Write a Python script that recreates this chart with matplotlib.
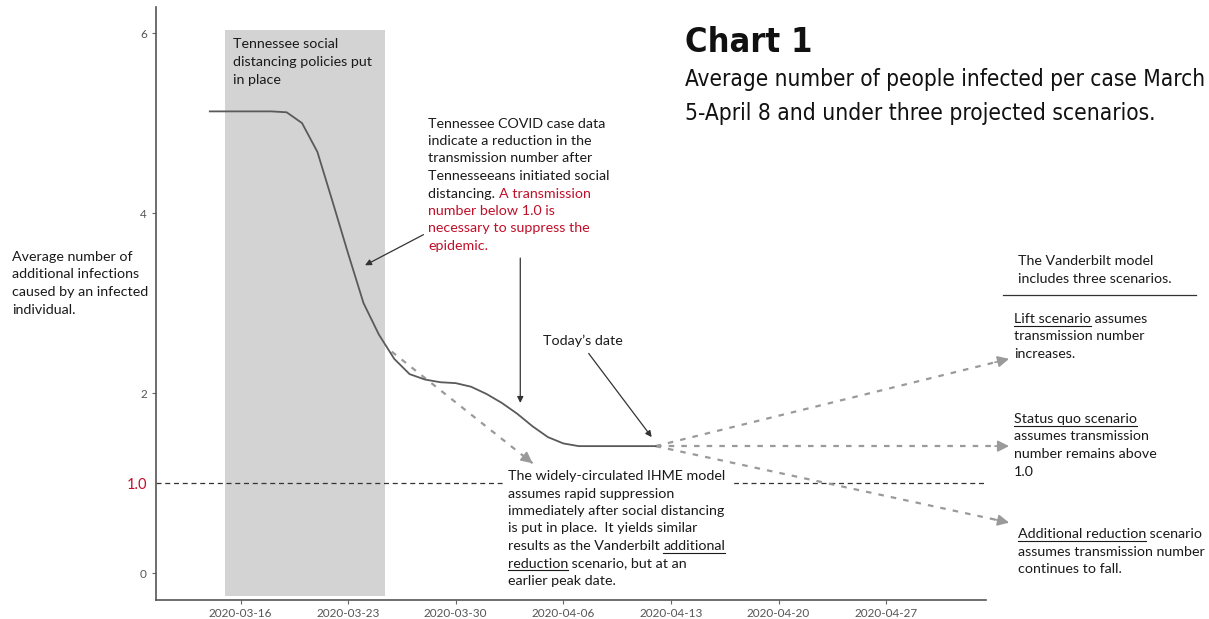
import os
import numpy as np
import pandas as pd
import matplotlib
matplotlib.use('Agg')
import matplotlib.pyplot as plt
from matplotlib import font_manager
from matplotlib.lines import Line2D

W, H = 1209, 619

# ---- data ----
dates = pd.date_range('2020-03-14', '2020-04-12')
r_values = [5.13, 5.13, 5.13, 5.13, 5.13, 5.12, 5.00, 4.68, 4.12, 3.55,
            3.00, 2.65, 2.38, 2.21, 2.15, 2.12, 2.11, 2.07, 1.99, 1.89,
            1.77, 1.63, 1.51, 1.44, 1.41, 1.41, 1.41, 1.41, 1.41, 1.41]

policy_start = pd.Timestamp('2020-03-15')
policy_end = pd.Timestamp('2020-03-25 10:00')
policy_ymin, policy_ymax = -0.26, 6.03

threshold = 1.0

ihme_start = (pd.Timestamp('2020-03-25 20:00'), 2.46)
ihme_end = (pd.Timestamp('2020-04-04'), 1.22)

scen_start = (pd.Timestamp('2020-04-12'), 1.41)
scen_end_date = pd.Timestamp('2020-05-05')
scen_names = ['lift', 'status quo', 'additional reduction']
scen_end_values = [2.38, 1.41, 0.56]

x_ticks = pd.date_range('2020-03-16', '2020-04-27', freq='7D')
y_ticks = [0, 2, 4, 6]

INK = '#1a1a1a'
RED = '#c0102a'
GREY_LINE = '#5a5a5a'
ARROW_GREY = '#9a9a9a'
TEXT_FONT = 'Lato'

plt.rcParams['font.family'] = [TEXT_FONT, 'DejaVu Sans']

fig = plt.figure(figsize=(W / 100, H / 100), dpi=100)
ax = fig.add_axes([156 / W, 1 - 600 / H, (986 - 156) / W, (600 - 7) / H])

ax.set_xlim(pd.Timestamp('2020-03-10 12:00'), pd.Timestamp('2020-05-03 12:00'))
ax.set_ylim(-0.3, 6.29)

# shaded policy window
ax.axvspan(policy_start, policy_end, ymin=(policy_ymin + 0.3) / 6.59,
           ymax=(policy_ymax + 0.3) / 6.59, color='#d3d3d3', lw=0, zorder=0)

# threshold line
ax.axhline(threshold, color='#333333', lw=0.9, linestyle=(0, (4, 3)), zorder=1)

# observed transmission number
ax.plot(dates, r_values, color=GREY_LINE, lw=1.3, zorder=3)


def dashed_arrow(start, end):
    ax.plot([start[0], end[0]], [start[1], end[1]], color=ARROW_GREY, lw=1.6,
            linestyle=(0, (2.5, 3.2)), clip_on=False, zorder=2)
    pre = (end[0] - (end[0] - start[0]) * 0.04, end[1] - (end[1] - start[1]) * 0.04)
    ax.annotate('', xy=end, xytext=pre, annotation_clip=False,
                arrowprops=dict(arrowstyle='-|>', color=ARROW_GREY, lw=1.2,
                                mutation_scale=17, shrinkA=0, shrinkB=0))


dashed_arrow(ihme_start, ihme_end)
for v in scen_end_values:
    dashed_arrow(scen_start, (scen_end_date, v))


def black_arrow(tail, tip):
    ax.annotate('', xy=tip, xytext=tail, annotation_clip=False,
                arrowprops=dict(arrowstyle='-|>', color='#333333', lw=0.9,
                                mutation_scale=9, shrinkA=0, shrinkB=0))


def d(day):
    return pd.Timestamp('2020-03-16') + pd.Timedelta(days=day)


black_arrow((d(11.9), 3.76), (d(8.1), 3.42))
black_arrow((d(18.2), 3.5), (d(18.2), 1.89))
black_arrow((d(22.65), 2.44), (d(26.75), 1.51))

# axes styling
for s in ['top', 'right']:
    ax.spines[s].set_visible(False)
for s in ['left', 'bottom']:
    ax.spines[s].set_color('#555555')
    ax.spines[s].set_linewidth(1.2)

ax.set_xticks(x_ticks)
ax.set_xticklabels([t.strftime('%Y-%m-%d') for t in x_ticks])
ax.set_yticks(y_ticks + [threshold])
ax.set_yticklabels([str(v) for v in y_ticks] + ['1.0'])
ax.tick_params(axis='both', colors='#666666', labelsize=8.5, length=3, width=0.8)
ax.tick_params(axis='x', pad=3)
ylabels = ax.get_yticklabels()
ylabels[-1].set_color(RED)
ylabels[-1].set_fontsize(10.5)
ax.get_yticklines()[-2].set_visible(False)
for lab in ax.get_xticklabels() + ylabels[:-1]:
    lab.set_color('#555555')

# ---- text annotations, placed in figure pixels ----
renderer = fig.canvas.get_renderer()
BODY = 10.3


def width_of(s, **kw):
    t = fig.text(0, 0, s + 'I', **kw)
    w1 = t.get_window_extent(renderer).width
    t.set_text('I')
    w0 = t.get_window_extent(renderer).width
    t.remove()
    return w1 - w0


def put_lines(x, y, lines, size=BODY, lh=17.5):
    for i, line in enumerate(lines):
        segs = line if isinstance(line, list) else [(line, INK, False)]
        base = y + i * lh
        cx = x
        for txt, col, ul in segs:
            fig.text(cx / W, 1 - base / H, txt, fontsize=size, color=col,
                     ha='left', va='baseline')
            w = width_of(txt, fontsize=size)
            if ul:
                wu = width_of(txt.rstrip(), fontsize=size)
                fig.add_artist(Line2D([cx / W, (cx + wu) / W],
                                      [1 - (base + 2.6) / H] * 2,
                                      transform=fig.transFigure, color=col, lw=0.8))
            cx += w


put_lines(233, 48.5, ['Tennessee social', 'distancing policies put', 'in place'])

put_lines(428, 127.5, ['Tennessee COVID case data', 'indicate a reduction in the',
                       'transmission number after', 'Tennesseeans initiated social',
                       [('distancing. ', INK, False), ('A transmission', RED, False)],
                       [('number below 1.0 is', RED, False)],
                       [('necessary to suppress the', RED, False)],
                       [('epidemic.', RED, False)]])

put_lines(543, 345, ["Today\u2019s date"])

# white patch behind the IHME note (interrupts the 1.0 line)
fig.add_artist(plt.Rectangle((503 / W, 1 - 492 / H), 230 / W, 22 / H,
                             transform=fig.transFigure, color='white', zorder=1.5))
put_lines(508, 480, ['The widely-circulated IHME model', 'assumes rapid suppression',
                     'immediately after social distancing',
                     'is put in place.  It yields similar',
                     [('results as the Vanderbilt ', INK, False), ('additional', INK, True)],
                     [('reduction', INK, True), (' scenario, but at an', INK, False)],
                     'earlier peak date.'])

put_lines(12, 261, ['Average number of', 'additional infections',
                    'caused by an infected', 'individual.'])

put_lines(1018, 265, ['The Vanderbilt model', 'includes three scenarios.'])
fig.add_artist(Line2D([1003 / W, 1196 / W], [1 - 295 / H] * 2,
                      transform=fig.transFigure, color='#333333', lw=0.9))
put_lines(1014, 323, [[('Lift scenario', INK, True), (' assumes', INK, False)],
                      'transmission number', 'increases.'])
put_lines(1014, 423, [[('Status quo scenario', INK, True)], 'assumes transmission',
                      'number remains above', '1.0'])
put_lines(1018, 538, [[('Additional reduction', INK, True), (' scenario', INK, False)],
                      'assumes transmission number', 'continues to fall.'])


# ---- title block (condensed face if one is installed) ----
def pick_condensed(bold):
    best = None
    for f in font_manager.fontManager.ttflist:
        tag = (f.name + ' ' + os.path.basename(f.fname)).lower()
        if 'condensed' not in tag or 'italic' in tag or 'oblique' in tag:
            continue
        isbold = f.weight in ('bold', 700, 'heavy', 800, 900) or 'bold' in tag
        if isbold == bold:
            return font_manager.FontProperties(fname=f.fname)
        best = best or font_manager.FontProperties(fname=f.fname)
    return best


def fitted_text(x, y, s, target_w, fp, fallback_kw):
    kw = dict(fontproperties=fp) if fp is not None else dict(fallback_kw)
    t = fig.text(x / W, 1 - y / H, s, ha='left', va='baseline', color='#111111', **kw)
    t.set_fontsize(20)
    w = t.get_window_extent(renderer).width
    t.set_fontsize(20 * target_w / w)
    return t


title_fp = pick_condensed(True)
sub_fp = pick_condensed(False)
fitted_text(685, 52, 'Chart 1', 128, title_fp,
            dict(family='Roboto', weight='bold'))
fitted_text(685, 86, 'Average number of people infected per case March', 520, sub_fp,
            dict(family='Roboto'))
fitted_text(685, 120, '5-April 8 and under three projected scenarios.', 470, sub_fp,
            dict(family='Roboto'))

fig.savefig('out.png', dpi=100, facecolor='white')
